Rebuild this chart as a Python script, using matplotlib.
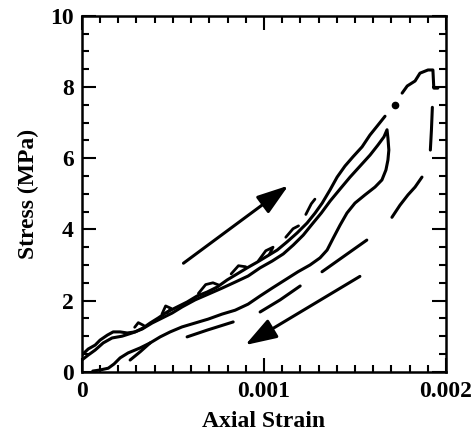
import matplotlib
matplotlib.use("Agg")
import matplotlib.pyplot as plt
from matplotlib.ticker import MultipleLocator

# Loading branch that reaches the highest stress
load_strain = [0.0, 0.000035, 0.000073, 0.0001, 0.00014, 0.000172, 0.00021, 0.000249,
               0.000293, 0.000336, 0.000375, 0.000419, 0.000468, 0.000523, 0.000578,
               0.000633, 0.000688, 0.000743, 0.000798, 0.000853, 0.000908, 0.000963,
               0.001018, 0.001073, 0.001127, 0.001182, 0.001237, 0.001281, 0.00132,
               0.001363, 0.001402, 0.001445, 0.001489, 0.001539, 0.001582, 0.001626,
               0.001665]
load_stress = [0.47, 0.64, 0.75, 0.89, 1.03, 1.12, 1.12, 1.09, 1.12, 1.23, 1.37, 1.51,
               1.68, 1.82, 1.96, 2.13, 2.24, 2.38, 2.58, 2.75, 2.92, 3.08, 3.25, 3.42,
               3.65, 3.90, 4.18, 4.46, 4.74, 5.11, 5.47, 5.78, 6.04, 6.32, 6.65, 6.93,
               7.18]

# Small burrs along the loading branch
burrs = [
    ([0.00029, 0.00031, 0.00034], [1.25, 1.38, 1.30]),
    ([0.00044, 0.00046, 0.00049, 0.00047], [1.62, 1.85, 1.78, 1.66]),
    ([0.00064, 0.00068, 0.00072, 0.00075], [2.20, 2.45, 2.50, 2.44]),
    ([0.00082, 0.00086, 0.00090], [2.75, 2.98, 2.95]),
    ([0.00097, 0.00101, 0.00105, 0.00103], [3.12, 3.40, 3.50, 3.30]),
    ([0.00112, 0.00116, 0.00119], [3.78, 4.02, 4.10]),
    ([0.00123, 0.00126, 0.00128], [4.42, 4.72, 4.85]),
]

# Upper end of the loading branch and the drop at peak stress
peak_strain = [0.001759, 0.001787, 0.00183, 0.001857, 0.001901, 0.001928, 0.001933, 0.001955]
peak_stress = [7.83, 8.03, 8.17, 8.39, 8.48, 8.48, 7.97, 7.97]
dot_strain = [0.00172]
dot_stress = [7.50]

# Inner cycle: reloading up to ~6.8 MPa and unloading back to zero
cycle_strain = [0.0, 0.000035, 0.000073, 0.000117, 0.000166, 0.000221, 0.000276, 0.000331,
                0.000386, 0.000441, 0.000496, 0.00055, 0.000622, 0.000694, 0.00077,
                0.000842, 0.000913, 0.000979, 0.001045, 0.001106, 0.001161, 0.001216,
                0.001265, 0.001315, 0.001364, 0.001419, 0.001473, 0.001528, 0.001583,
                0.001626, 0.001659, 0.001676,
                0.001681, 0.001686, 0.001681, 0.00167, 0.001648, 0.00161, 0.001555, 0.0015,
                0.001456, 0.001418, 0.00138, 0.001347, 0.001308, 0.001253, 0.001187,
                0.001116, 0.001045, 0.000979, 0.000913, 0.000842, 0.00077, 0.000694,
                0.000622, 0.00055, 0.000485, 0.00043, 0.000375, 0.00032, 0.000254,
                0.00021, 0.000177, 0.000145, 0.0001, 0.00006]
cycle_stress = [0.33, 0.47, 0.61, 0.81, 0.95, 1.00, 1.09, 1.20, 1.37, 1.51, 1.65, 1.82,
                2.02, 2.18, 2.35, 2.52, 2.69, 2.92, 3.11, 3.31, 3.56, 3.84, 4.15, 4.46,
                4.80, 5.14, 5.47, 5.78, 6.09, 6.37, 6.60, 6.80,
                6.57, 6.23, 5.95, 5.67, 5.39, 5.19, 4.97, 4.74, 4.46, 4.12, 3.75, 3.42,
                3.20, 3.00, 2.81, 2.58, 2.35, 2.13, 1.90, 1.73, 1.62, 1.48, 1.37, 1.26,
                1.12, 0.98, 0.81, 0.67, 0.53, 0.39, 0.22, 0.10, 0.05, 0.02]

# Short loop near the origin
loop_strain = [0.000265, 0.00032, 0.000375]
loop_stress = [0.33, 0.56, 0.81]

# Broken unloading trace from the peak
unload_segments = [
    ([0.001925, 0.00192, 0.001914], [7.43, 6.80, 6.23]),
    ([0.001703, 0.001747, 0.001791, 0.00183, 0.001868], [4.34, 4.68, 4.97, 5.19, 5.47]),
    ([0.001319, 0.001435, 0.001565], [2.81, 3.23, 3.70]),
    ([0.000979, 0.001089, 0.001199], [1.68, 2.02, 2.41]),
    ([0.000578, 0.000688, 0.000831], [0.98, 1.17, 1.40]),
]

# Direction arrows (tail, head)
arrow_up = ((0.000558, 3.05), (0.001134, 5.23))
arrow_down = ((0.001527, 2.68), (0.000897, 0.75))

x_ticks = [0, 0.001, 0.002]
x_tick_labels = ["0", "0.001", "0.002"]
y_ticks = [0, 2, 4, 6, 8, 10]

font = "Liberation Serif"

fig = plt.figure(figsize=(4.76, 4.41), dpi=100)
ax = fig.add_axes([0.172, 0.157, 0.765, 0.807])

lw = 2.2
ax.plot(load_strain, load_stress, color="black", lw=lw, solid_capstyle="round")
for xs, ys in burrs:
    ax.plot(xs, ys, color="black", lw=2.0, solid_capstyle="round")
ax.plot(peak_strain, peak_stress, color="black", lw=lw, solid_capstyle="round")
ax.plot(dot_strain, dot_stress, "o", color="black", ms=4.5)
ax.plot(cycle_strain, cycle_stress, color="black", lw=lw, solid_capstyle="round")
ax.plot(loop_strain, loop_stress, color="black", lw=lw, solid_capstyle="round")
for xs, ys in unload_segments:
    ax.plot(xs, ys, color="black", lw=lw, solid_capstyle="round")

for tail, head in (arrow_up, arrow_down):
    ax.annotate("", xy=head, xytext=tail,
                arrowprops=dict(arrowstyle="-|>,head_length=1.2,head_width=0.4",
                                mutation_scale=16, lw=2.2, color="black",
                                shrinkA=0, shrinkB=0))

ax.set_xlim(0, 0.002)
ax.set_ylim(0, 10)
ax.set_xticks(x_ticks)
ax.set_xticklabels(x_tick_labels)
ax.set_yticks(y_ticks)
ax.xaxis.set_minor_locator(MultipleLocator(0.0001))
ax.yaxis.set_minor_locator(MultipleLocator(0.5))
ax.tick_params(which="both", direction="in", top=True, right=True, width=1.5)
ax.tick_params(which="major", length=10)
ax.tick_params(which="minor", length=5)
ax.tick_params(axis="x", which="major", pad=7)
ax.tick_params(axis="y", which="major", pad=6)
for lab in ax.get_xticklabels() + ax.get_yticklabels():
    lab.set_fontfamily(font)
    lab.set_fontweight("bold")
    lab.set_fontsize(17)
for sp in ax.spines.values():
    sp.set_linewidth(1.8)

ax.set_xlabel("Axial Strain", fontfamily=font, fontweight="bold", fontsize=17, labelpad=6)
ax.set_ylabel("Stress (MPa)", fontfamily=font, fontweight="bold", fontsize=17, labelpad=8)

fig.savefig("out.png", dpi=100)
